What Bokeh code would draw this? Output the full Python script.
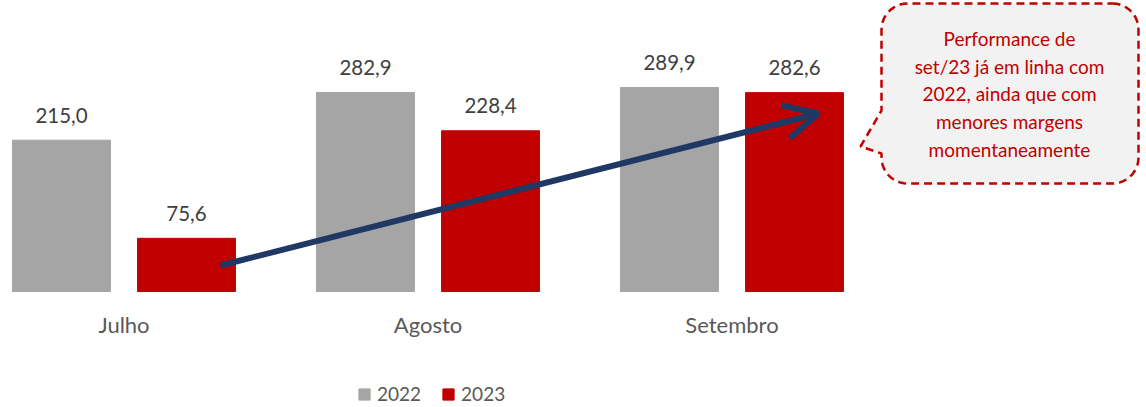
import numpy as np
from bokeh.plotting import figure
from bokeh.models import (Range1d, Legend, LegendItem, Arrow, OpenHead,
                          ColumnDataSource)
from bokeh.core.properties import value
from bokeh.embed import file_html
from bokeh.resources import INLINE

# ---- data ----
months = ["Julho", "Agosto", "Setembro"]
v2022 = [215.0, 282.9, 289.9]
v2023 = [75.6, 228.4, 282.6]
series = ["2022", "2023"]
note_lines = ["Performance de", "set/23 já em linha com", "2022, ainda que com",
              "menores margens", "momentaneamente"]

GRAY = "#A5A5A5"
RED = "#C00000"
NAVY = "#1F3864"
TXT = "#404040"
LBL = "#595959"
FONT = "Lato"

W, H = 1140, 405
BASE = 291           # baseline, px from top of figure
SX = 304.0           # px per category
X0 = -123.5 / SX
PXU = 0.7037         # px per unit (y)

p = figure(width=W, height=H, output_backend="svg", toolbar_location=None,
           x_range=Range1d(X0, X0 + W / SX),
           y_range=Range1d(-(H - BASE) / PXU, BASE / PXU),
           x_axis_location=None, y_axis_location=None, min_border=0,
           outline_line_color=None)
p.grid.visible = False

def dx(px):
    return px / SX + X0

def dy(py):
    return (BASE - py) / PXU

xs = np.arange(len(months))
off = 0.2056
bw = 0.322
src = ColumnDataSource(dict(x1=xs - off, x2=xs + off, a=v2022, b=v2023,
                            la=[f"{v:.1f}".replace(".", ",") for v in v2022],
                            lb=[f"{v:.1f}".replace(".", ",") for v in v2023]))
r1 = p.vbar(x="x1", top="a", width=bw, color=GRAY, source=src)
r2 = p.vbar(x="x2", top="b", width=bw, color=RED, source=src)

for xcol, ycol, lcol in (("x1", "a", "la"), ("x2", "b", "lb")):
    p.text(x=xcol, y=ycol, text=lcol, source=src, text_align="center",
           text_baseline="middle", y_offset=-25, text_font=value(FONT),
           text_font_size="20.5px", text_color=TXT)

# category labels (x scale)
p.text(x=list(xs), y=[0] * len(months), text=months, text_align="center",
       text_baseline="middle", y_offset=33, text_font=value(FONT),
       text_font_size="22px", text_color=LBL)

# arrow
p.add_layout(Arrow(end=OpenHead(line_color=NAVY, line_width=6, size=34),
                   x_start=dx(220), y_start=dy(265), x_end=dx(818), y_end=dy(113),
                   line_color=NAVY, line_width=6))

# callout
L, R, T, B, r = 881, 1138, 3, 183, 26
pts = []
def arc(cx, cy, a0, a1):
    for a in np.linspace(np.radians(a0), np.radians(a1), 12):
        pts.append((cx + r * np.cos(a), cy - r * np.sin(a)))
arc(R - r, T + r, 90, 0)
arc(R - r, B - r, 0, -90)
arc(L + r, B - r, -90, -180)
pts += [(L, 153), (860, 146), (L, 110)]
arc(L + r, T + r, 180, 90)
pts.append(pts[0])
p.patch([dx(a) for a, _ in pts], [dy(b) for _, b in pts], fill_color="#F2F2F2",
        line_color=RED, line_width=2.5, line_dash="8 5")

ny = [38, 66, 93, 121, 149]
p.text(x=[dx(1009)] * len(note_lines), y=[dy(v) for v in ny], text=note_lines,
       text_align="center", text_baseline="middle", text_font=value(FONT),
       text_font_size="19px", text_color=RED)

legend = Legend(items=[LegendItem(label=series[0], renderers=[r1]),
                       LegendItem(label=series[1], renderers=[r2])],
                orientation="horizontal", location=(357, 0),
                glyph_width=14, glyph_height=14, label_standoff=6, spacing=20,
                label_text_font=FONT, label_text_font_size="19px",
                label_text_color=LBL, border_line_color=None,
                background_fill_alpha=0, margin=0, padding=0)
p.add_layout(legend)

open("out.html", "w").write(file_html(p, INLINE))
